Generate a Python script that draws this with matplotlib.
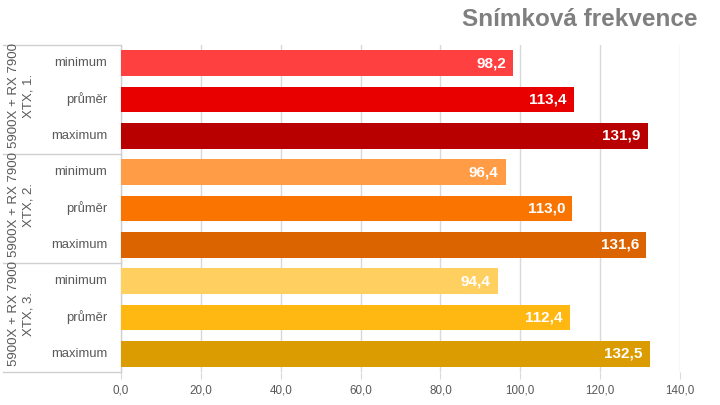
import numpy as np
import matplotlib
matplotlib.use('Agg')
import matplotlib.pyplot as plt
from matplotlib.transforms import blended_transform_factory

plt.rcParams['font.family'] = ['Liberation Sans', 'DejaVu Sans']

groups = ['5900X + RX 7900\nXTX, 1.', '5900X + RX 7900\nXTX, 2.', '5900X + RX 7900\nXTX, 3.']
metrics = ['minimum', 'průměr', 'maximum']
values = [98.2, 113.4, 131.9,
          96.4, 113.0, 131.6,
          94.4, 112.4, 132.5]
colors = ['#FF4040', '#E80000', '#B80000',
          '#FF9C45', '#F97400', '#DC6400',
          '#FFD060', '#FFB812', '#DA9C00']
xticks = [0, 20, 40, 60, 80, 100, 120, 140]

W, H = 720, 405
fig = plt.figure(figsize=(W / 100, H / 100), dpi=100)
ax = fig.add_axes([121 / W, 1 - 372 / H, (680 - 121) / W, (372 - 45) / H])

y = np.arange(len(values))
ax.barh(y, values, height=0.71, color=colors, zorder=3)
ax.set_xlim(0, 140)
ax.set_ylim(len(values) - 0.5, -0.5)

grid_c = '#D9D9D9'
for x in xticks:
    ax.axvline(x, color=grid_c, lw=1, zorder=1)
ax.set_xticks(xticks)
ax.set_xticklabels([('%.1f' % v).replace('.', ',') for v in xticks])
ax.tick_params(axis='x', length=5, color=grid_c, labelcolor='#595959', labelsize=8.4, pad=4)
ax.set_yticks([])
for s in ax.spines.values():
    s.set_visible(False)

for yi, v in zip(y, values):
    ax.text(v - 1.8, yi, ('%.1f' % v).replace('.', ','), ha='right', va='center',
            color='white', fontsize=11, fontweight='bold', zorder=4)

# category labels and group box
tr = blended_transform_factory(ax.transAxes, ax.transData)
px = 1 / 559
for yi in y:
    ax.text(-14 * px, yi, metrics[yi % 3], transform=tr, ha='right', va='center',
            color='#595959', fontsize=9.4)
box_c = '#D0D0D0'
left = -118 * px
for b in [-0.5, 2.5, 5.5, 8.5]:
    ax.plot([left, 0], [b, b], transform=tr, color=box_c, lw=1, clip_on=False)
ax.plot([0, 0], [-0.5, 8.5], transform=tr, color=box_c, lw=1, clip_on=False)
for gi, g in enumerate(groups):
    ax.text(-100 * px, gi * 3 + 0.9, g, transform=tr, ha='center', va='center',
            rotation=90, color='#595959', fontsize=9.5, linespacing=1.25,
            multialignment='center')

fig.text(697 / W, 1 - 20 / H, 'Snímková frekvence', ha='right', va='center',
         color='#7F7F7F', fontsize=17.5, fontweight='bold')

fig.savefig('out.png', dpi=100)
